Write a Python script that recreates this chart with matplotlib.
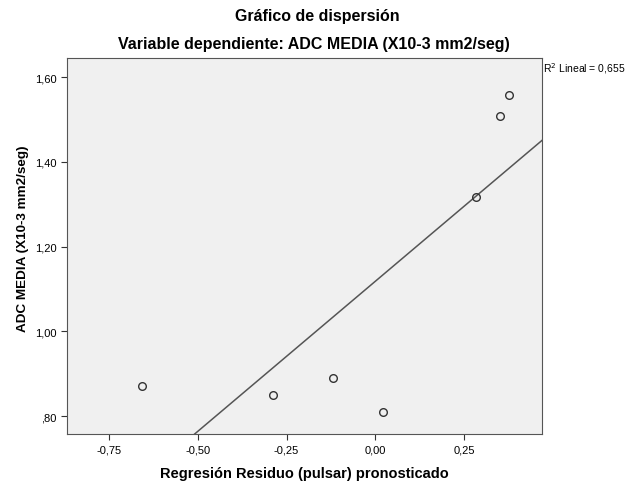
import numpy as np
import matplotlib
matplotlib.use('Agg')
import matplotlib.pyplot as plt

plt.rcParams['font.family'] = ['Liberation Sans', 'DejaVu Sans']

# residuo pronosticado vs ADC media
resid = [-0.657, -0.288, -0.119, 0.022, 0.283, 0.351, 0.376]
adc = [0.871, 0.850, 0.890, 0.810, 1.318, 1.509, 1.558]
xticks = [-0.75, -0.50, -0.25, 0.00, 0.25]
xticklabels = ['-0,75', '-0,50', '-0,25', '0,00', '0,25']
yticks = [0.80, 1.00, 1.20, 1.40, 1.60]
yticklabels = [',80', '1,00', '1,20', '1,40', '1,60']
r2_text = 'Lineal = 0,655'

fig = plt.figure(figsize=(6.34, 4.85), dpi=100)
ax = fig.add_axes([67/634, 1-435/485, (542-67)/634, (435-59)/485])
ax.set_facecolor('#f0f0f0')

xlim = (-0.868, 0.469)
ylim = (0.758, 1.645)
ax.set_xlim(xlim)
ax.set_ylim(ylim)

p = np.polyfit(resid, adc, 1)
xl = np.array(xlim)
ax.plot(xl, np.polyval(p, xl), '-', color='#555555', lw=1.1)
ax.plot(resid, adc, 'o', mfc='none', mec='#333333', mew=1.0, ms=5.5)

ax.set_xticks(xticks)
ax.set_xticklabels(xticklabels, fontsize=8)
ax.set_yticks(yticks)
ax.set_yticklabels(yticklabels, fontsize=8)
ax.tick_params(direction='out', length=4, color='#333333')
for s in ax.spines.values():
    s.set_color('#555555')

# etiquetas de ejes
fig.text(304/634, 1-474/485, 'Regresión Residuo (pulsar) pronosticado',
         ha='center', va='center', fontsize=10.5, fontweight='bold')
fig.text(22.7/634, 1-239/485, 'ADC MEDIA (X10-3 mm2/seg)', rotation=90,
         ha='center', va='center', fontsize=9.7, fontweight='bold')

fig.text(317/634, 1-17/485, 'Gráfico de dispersión', ha='center', va='center',
         fontsize=11.5, fontweight='bold')
fig.text(314/634, 1-45/485, 'Variable dependiente: ADC MEDIA (X10-3 mm2/seg)',
         ha='center', va='center', fontsize=11.5, fontweight='bold')
fig.text(543/634, 1-69/485, r'R$^2$ ' + r2_text, ha='left', va='center',
         fontsize=7.5)

fig.savefig('out.png', dpi=100)
